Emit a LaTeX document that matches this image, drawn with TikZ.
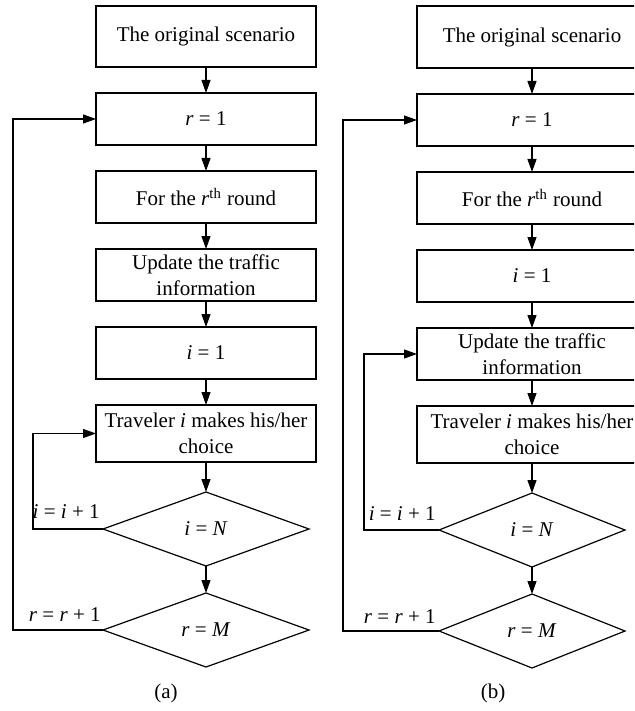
\documentclass[tikz,border=0pt]{standalone}
\usepackage{fontspec}
\setmainfont{Liberation Serif}
\usetikzlibrary{arrows.meta,positioning,shapes.geometric}
\tikzset{
 box/.style={draw,line width=0.6pt,align=center,minimum height=26pt,
             minimum width=110pt,inner xsep=1pt,inner ysep=0.5pt,outer sep=0pt},
 cond/.style={draw,line width=0.6pt,diamond,aspect=2.8,inner sep=0pt,outer sep=0pt,
             minimum width=103pt,minimum height=37pt},
 arrow/.style={-{Triangle[length=6.5pt,width=4.5pt]},line width=0.6pt},
 lbl/.style={anchor=base east,inner sep=0pt}
}

\begin{document}
\begin{tikzpicture}[x=0.5pt,y=-0.5pt,node distance=13pt,
  font=\fontsize{10.5}{13}\selectfont]
% pixel grid of the figure, y pointing down
\useasboundingbox (0,0) rectangle (634,711);
\clip (0,0) rectangle (634,711);

% (a)
\node[box,minimum height=30.5pt] (a0) at (206,36.5) {The original scenario};
\node[box,below=of a0] (a1) {\textit{r} = 1};
\node[box,below=of a1] (a2) {For the \textit{r}\textsuperscript{th} round};
\node[box,below=of a2] (a3) {Update the traffic\\information};
\node[box,below=of a3] (a4) {\textit{i} = 1};
\node[box,below=of a4,minimum height=28.5pt] (a5) {Traveler \textit{i} makes his/her\\choice};
\node[cond,below=15pt of a5] (a6) {\textit{i} = \textit{N}};
\node[cond,below=13.5pt of a6] (a7) {\textit{r} = \textit{M}};
\draw[arrow] (a0) -- (a1);
\draw[arrow] (a1) -- (a2);
\draw[arrow] (a2) -- (a3);
\draw[arrow] (a3) -- (a4);
\draw[arrow] (a4) -- (a5);
\draw[arrow] (a5) -- (a6);
\draw[arrow] (a6) -- (a7);
\draw[arrow] (a6.west) -- ++(-70,0) |- (a5.west);
\draw[arrow] (a7.west) -- ++(-90,0) |- (a1.west);
\node[lbl] (a6lbl) at ([shift={(-3,-11)}]a6.west) {\textit{i} = \textit{i} + 1};
\node[lbl] (a7lbl) at ([shift={(-2,-9)}]a7.west) {\textit{r} = \textit{r} + 1};
\node (capa) at (166,693) {(a)};

% (b)
\node[box,minimum width=115pt,minimum height=31pt] (b0) at (532,37) {The original scenario};
\node[box,minimum width=115pt,below=of b0] (b1) {\textit{r} = 1};
\node[box,minimum width=115pt,below=of b1] (b2) {For the \textit{r}\textsuperscript{th} round};
\node[box,minimum width=115pt,below=of b2] (b3) {\textit{i} = 1};
\node[box,minimum width=115pt,below=of b3] (b4) {Update the traffic\\information};
\node[box,minimum width=115pt,below=of b4,minimum height=28.5pt] (b5) {Traveler \textit{i} makes his/her\\choice};
\node[cond,minimum width=93pt,below=15pt of b5] (b6) {\textit{i} = \textit{N}};
\node[cond,minimum width=93pt,below=13.5pt of b6] (b7) {\textit{r} = \textit{M}};
\draw[arrow] (b0) -- (b1);
\draw[arrow] (b1) -- (b2);
\draw[arrow] (b2) -- (b3);
\draw[arrow] (b3) -- (b4);
\draw[arrow] (b4) -- (b5);
\draw[arrow] (b5) -- (b6);
\draw[arrow] (b6) -- (b7);
\draw[arrow] (b6.west) -- ++(-75,0) |- (b4.west);
\draw[arrow] (b7.west) -- ++(-96,0) |- (b1.west);
\node[lbl] (b6lbl) at ([shift={(-3,-10)}]b6.west) {\textit{i} = \textit{i} + 1};
\node[lbl] (b7lbl) at ([shift={(-3,-8)}]b7.west) {\textit{r} = \textit{r} + 1};
\node (capb) at (493,693) {(b)};
\end{tikzpicture}
\end{document}
